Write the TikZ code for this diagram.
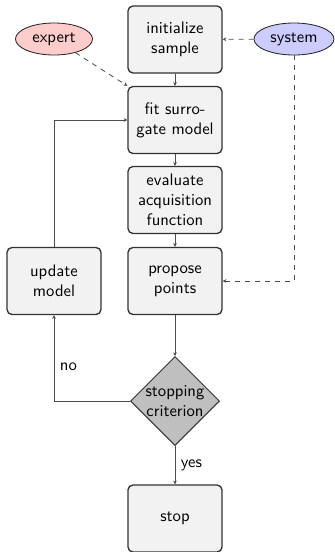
\documentclass[tikz,border=0pt]{standalone}
\usetikzlibrary{shapes.geometric,arrows.meta}
\begin{document}
\begin{tikzpicture}[x=0.6pt,y=-0.6pt,
  font=\sffamily,
  stepbox/.style={draw=black!80, line width=0.8pt, fill=gray!10, rounded corners=3pt,
    minimum width=56.4pt, minimum height=40.2pt, align=center, inner sep=2pt},
  decision/.style={draw=black!80, line width=0.6pt, fill=gray!50, diamond,
    minimum width=53.4pt, minimum height=53.4pt, inner sep=-1.2pt, align=center},
  actor/.style={draw=black!85, line width=0.5pt, ellipse, minimum height=19.2pt, inner sep=1pt},
  conn/.style={draw=black!70, line width=0.5pt, -{Stealth[length=2.2pt,width=2.2pt]}},
  dconn/.style={conn, dashed}
]
\useasboundingbox (0,0) rectangle (335,552);
\node[stepbox] (init) at (175,39.5) {initialize\\sample};
\node[stepbox] (fit) at (175,120) {fit surro-\\gate model};
\node[stepbox] (eval) at (175,200) {evaluate\\acquisition\\function};
\node[stepbox] (prop) at (175,281) {propose\\points};
\node[stepbox] (upd) at (54,281) {update\\model};
\node[decision] (crit) at (175,401) {stopping\\criterion};
\node[stepbox] (stop) at (175,518.5) {stop};
\node[actor, fill=red!20, minimum width=46.2pt] (expert) at (54,39) {expert};
\node[actor, fill=blue!20, minimum width=48pt] (system) at (294,39) {system};

\draw[conn] (init) -- (fit);
\draw[conn] (fit) -- (eval);
\draw[conn] (eval) -- (prop);
\draw[conn] (prop) -- (crit);
\draw[conn] (crit) -- node[midway,right] {yes} (stop);
\draw[conn] (crit.west) -| node[pos=0.7,right] {no} (upd.south);
\draw[conn] (upd.north) |- (fit.west);
\draw[dconn] (expert) -- (fit.north west);
\draw[dconn] (system) -- (init);
\draw[dconn] (system.south) |- (prop.east);
\end{tikzpicture}
\end{document}
